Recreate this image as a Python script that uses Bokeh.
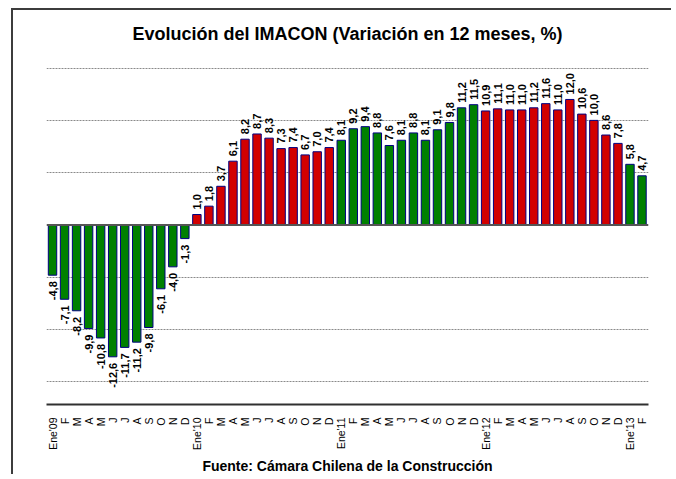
import math
from bokeh.plotting import figure
from bokeh.models import ColumnDataSource, Range1d, FixedTicker, Span, Title
from bokeh.core.properties import value
from bokeh.embed import file_html
from bokeh.resources import INLINE

# ---- data ----
months = ["Ene'09", "F", "M", "A", "M", "J", "J", "A", "S", "O", "N", "D",
          "Ene'10", "F", "M", "A", "M", "J", "J", "A", "S", "O", "N", "D",
          "Ene'11", "F", "M", "A", "M", "J", "J", "A", "S", "O", "N", "D",
          "Ene'12", "F", "M", "A", "M", "J", "J", "A", "S", "O", "N", "D",
          "Ene'13", "F"]
values_2009 = [-4.8, -7.1, -8.2, -9.9, -10.8, -12.6, -11.7, -11.2, -9.8, -6.1, -4.0, -1.3]
values_2010 = [1.0, 1.8, 3.7, 6.1, 8.2, 8.7, 8.3, 7.3, 7.4, 6.7, 7.0, 7.4]
values_2011 = [8.1, 9.2, 9.4, 8.8, 7.6, 8.1, 8.8, 8.1, 9.1, 9.8, 11.2, 11.5]
values_2012 = [10.9, 11.1, 11.0, 11.0, 11.2, 11.6, 11.0, 12.0, 10.6, 10.0, 8.6, 7.8]
values_2013 = [5.8, 4.7]

GREEN = "#008000"
RED = "#d20000"
series = [(values_2009, GREEN), (values_2010, RED), (values_2011, GREEN),
          (values_2012, RED), (values_2013, GREEN)]

vals, cols = [], []
for v, c in series:
    vals += v
    cols += [c] * len(v)
xs = list(range(len(vals)))
labels = [f"{v:.1f}".replace(".", ",") for v in vals]

src = ColumnDataSource(dict(x=xs, top=vals, color=cols, label=labels))
pos = ColumnDataSource(dict(x=[x for x, v in zip(xs, vals) if v >= 0],
                            y=[v for v in vals if v >= 0],
                            label=[l for l, v in zip(labels, vals) if v >= 0]))
neg = ColumnDataSource(dict(x=[x for x, v in zip(xs, vals) if v < 0],
                            y=[v for v in vals if v < 0],
                            label=[l for l, v in zip(labels, vals) if v < 0]))

FONT = "Liberation Sans"

p = figure(width=660, height=466, output_backend="svg", toolbar_location=None,
           x_range=Range1d(-0.5, 49.54), y_range=Range1d(-17.16, 16.68),
           min_border_left=33, min_border_right=25, min_border_top=40,
           min_border_bottom=69)
p.styles = {"border-top": "2px solid #3c3c3c", "border-left": "2px solid #3c3c3c",
            "margin-left": "11px", "margin-top": "8px"}
p.outline_line_color = None
p.background_fill_color = "white"

p.title = Title(text="Evolución del IMACON (Variación en 12 meses, %)", align="center",
                text_font=FONT, text_font_size="18px", text_font_style="bold",
                text_color="black", standoff=14)
p.add_layout(Title(text="Fuente: Cámara Chilena de la Construcción", align="center",
                   text_font=FONT, text_font_size="14px", text_font_style="bold",
                   text_color="black", standoff=6), "below")

# grid
p.xgrid.visible = False
p.ygrid.ticker = FixedTicker(ticks=[-15, -10, -5, 5, 10, 15])
p.ygrid.grid_line_color = "#8a8a8a"
p.ygrid.grid_line_dash = "2 1"
p.ygrid.grid_line_width = 1
p.yaxis.visible = False

# x axis
p.xaxis.ticker = FixedTicker(ticks=xs)
p.xaxis.major_label_overrides = {i: m for i, m in enumerate(months)}
p.xaxis.major_label_orientation = math.pi / 2
p.xaxis.major_label_text_font = FONT
p.xaxis.major_label_text_font_size = "10.5px"
p.xaxis.major_label_text_color = "black"
p.xaxis.major_label_standoff = 13
p.xaxis.major_tick_line_color = None
p.xaxis.minor_tick_line_color = None
p.xaxis.major_tick_out = 0
p.xaxis.major_tick_in = 0
p.xaxis.axis_line_color = "#303030"
p.xaxis.axis_line_width = 2

p.vbar(x="x", top="top", bottom=0, width=0.7, source=src,
       fill_color="color", line_color="#000080", line_width=1)

p.add_layout(Span(location=0, dimension="width", line_color="#555555", line_width=2))

p.text(x="x", y="y", text="label", source=pos, angle=math.pi / 2,
       text_align="left", text_baseline="middle", y_offset=-5,
       text_font=value(FONT), text_font_size="11px", text_font_style="bold",
       text_color="black")
p.text(x="x", y="y", text="label", source=neg, angle=math.pi / 2,
       text_align="right", text_baseline="middle", y_offset=6,
       text_font=value(FONT), text_font_size="11px", text_font_style="bold",
       text_color="black")

open("out.html", "w").write(file_html(p, INLINE))
